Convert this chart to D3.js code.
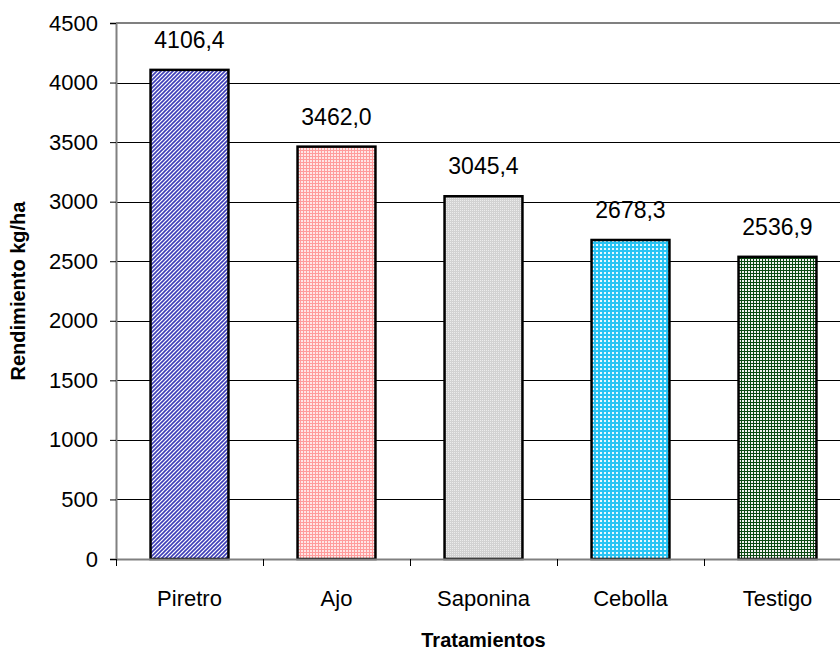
<!DOCTYPE html>
<html>
<head>
<meta charset="utf-8">
<script src="https://cdn.jsdelivr.net/npm/d3@7"></script>
<style>
  html, body { margin: 0; padding: 0; background: #fff; }
  svg { display: block; font-family: Arial, "Liberation Sans", sans-serif; }
</style>
</head>
<body>
<svg id="chart" width="840" height="654"></svg>
<script>
// Rendimiento por tratamiento
const categories = ["Piretro", "Ajo", "Saponina", "Cebolla", "Testigo"];
const values = [4106.4, 3462.0, 3045.4, 2678.3, 2536.9];
const valueLabels = ["4106,4", "3462,0", "3045,4", "2678,3", "2536,9"];
const yTicks = [0, 500, 1000, 1500, 2000, 2500, 3000, 3500, 4000, 4500];
const yTitle = "Rendimiento kg/ha";
const xTitle = "Tratamientos";

const FONT = "Arial, 'Liberation Sans', sans-serif";
const svg = d3.select("#chart");
const margin = { left: 116, top: 23, bottom: 95 };
const plotW = 735;              // extends past the right edge of the page
const plotH = 654 - margin.top - margin.bottom;

const defs = svg.append("defs");

// Fill patterns for each treatment
function pattern(id, w, h, bg, shapes) {
  const p = defs.append("pattern")
    .attr("id", id).attr("patternUnits", "userSpaceOnUse")
    .attr("width", w).attr("height", h);
  p.append("rect").attr("width", w).attr("height", h).attr("fill", bg);
  shapes(p);
}
// Piretro: blue diagonal hatch
pattern("p0", 4, 4, "#ffffff", p => {
  p.append("path").attr("d", "M0,4 L4,0 M-1,1 L1,-1 M3,5 L5,3")
    .attr("stroke", "#3e3eb8").attr("stroke-width", 1.6);
});
// Ajo: pink grid
pattern("p1", 3, 3, "#ff9c9c", p => {
  p.append("rect").attr("x", 1).attr("y", 1).attr("width", 2).attr("height", 2).attr("fill", "#ffe6e6");
});
// Saponina: fine gray stipple
pattern("p2", 2, 2, "#d2d2d2", p => {
  p.append("rect").attr("x", 0).attr("y", 0).attr("width", 1).attr("height", 1).attr("fill", "#ececec");
});
// Cebolla: cyan checker
pattern("p3", 4, 4, "#29c4f4", p => {
  p.append("rect").attr("x", 0).attr("y", 0).attr("width", 2).attr("height", 2).attr("fill", "#e8f8ff");
});
// Testigo: dark green grid
pattern("p4", 3, 3, "#0b4a12", p => {
  p.append("rect").attr("x", 1).attr("y", 1).attr("width", 2).attr("height", 2).attr("fill", "#f2f2f2");
});

const x = d3.scaleBand().domain(categories).range([margin.left, margin.left + plotW]).paddingInner(0.47).paddingOuter(0.235);
const y = d3.scaleLinear().domain([0, 4500]).range([margin.top + plotH, margin.top]);

// Horizontal grid lines
svg.append("g").selectAll("line").data(yTicks.filter(t => t > 0 && t < 4500)).join("line")
  .attr("x1", margin.left).attr("x2", margin.left + plotW)
  .attr("y1", d => Math.round(y(d)) + 0.5).attr("y2", d => Math.round(y(d)) + 0.5)
  .attr("stroke", "#000").attr("stroke-width", 1);
// Top border line
svg.append("line")
  .attr("x1", margin.left).attr("x2", margin.left + plotW)
  .attr("y1", y(4500)).attr("y2", y(4500))
  .attr("stroke", "#808080").attr("stroke-width", 2);

// Bars
svg.append("g").selectAll("rect").data(values).join("rect")
  .attr("x", (d, i) => x(categories[i]))
  .attr("y", d => y(d))
  .attr("width", x.bandwidth())
  .attr("height", d => y(0) - y(d))
  .attr("fill", (d, i) => `url(#p${i})`)
  .attr("stroke", "#000").attr("stroke-width", 2.5);

// Value labels
svg.append("g").selectAll("text").data(values).join("text")
  .attr("x", (d, i) => x(categories[i]) + x.bandwidth() / 2)
  .attr("y", d => y(d) - 22)
  .attr("text-anchor", "middle")
  .attr("font-family", FONT)
  .attr("font-size", 23)
  .attr("fill", "#000")
  .text((d, i) => valueLabels[i]);

// Y axis
const yAxis = svg.append("g").attr("transform", `translate(${margin.left},0)`)
  .call(d3.axisLeft(y).tickValues(yTicks).tickSize(6).tickPadding(12).tickFormat(d3.format("d")));
yAxis.select(".domain").attr("stroke", "#808080").attr("stroke-width", 2);
yAxis.selectAll(".tick line").attr("stroke", "#000");
yAxis.selectAll(".tick text").attr("font-size", 22).attr("fill", "#000").attr("font-family", FONT);

// X axis
const xAxis = svg.append("g").attr("transform", `translate(0,${y(0)})`)
  .call(d3.axisBottom(x).tickSize(0).tickPadding(0));
xAxis.select(".domain").attr("stroke", "#808080").attr("stroke-width", 2);
xAxis.selectAll(".tick text")
  .attr("y", 47).attr("dy", null)
  .attr("font-size", 22).attr("fill", "#000").attr("font-family", FONT);
// Category separator ticks
const step = x.step();
svg.append("g").selectAll("line").data(d3.range(0, categories.length + 1)).join("line")
  .attr("x1", i => Math.round(margin.left + i * step) + 0.5)
  .attr("x2", i => Math.round(margin.left + i * step) + 0.5)
  .attr("y1", y(0)).attr("y2", y(0) + 7)
  .attr("stroke", "#000");

// Axis titles
svg.append("text")
  .attr("x", margin.left + 2.5 * step).attr("y", 647)
  .attr("text-anchor", "middle").attr("font-family", FONT)
  .attr("font-size", 20).attr("font-weight", "bold")
  .text(xTitle);
svg.append("text")
  .attr("transform", `translate(25,${margin.top + plotH / 2}) rotate(-90)`)
  .attr("text-anchor", "middle").attr("font-family", FONT)
  .attr("font-size", 20).attr("font-weight", "bold")
  .text(yTitle);
</script>
</body>
</html>
